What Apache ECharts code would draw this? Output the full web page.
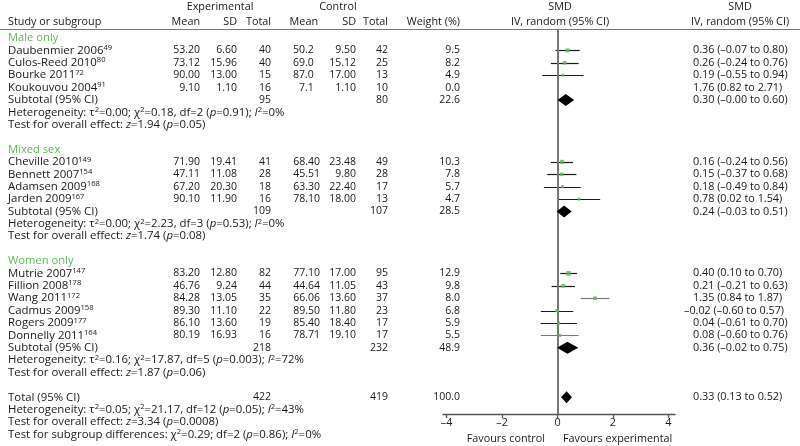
<!DOCTYPE html>
<html><head><meta charset="utf-8">
<script src="https://cdn.jsdelivr.net/npm/echarts@6/dist/echarts.min.js"></script>
<style>html,body{margin:0;padding:0;background:#fff}#c{width:800px;height:446px}</style>
</head><body><div id="c"></div>
<script>
// ---------------- DATA ----------------
const groupNames = ['Male only', 'Mixed sex', 'Women only'];
const studyGroup = [0, 0, 0, 0, 1, 1, 1, 1, 2, 2, 2, 2, 2, 2];
const studyNames = ['Daubenmier 2006', 'Culos-Reed 2010', 'Bourke 2011', 'Koukouvou 2004',
  'Cheville 2010', 'Bennett 2007', 'Adamsen 2009', 'Jarden 2009',
  'Mutrie 2007', 'Fillion 2008', 'Wang 2011', 'Cadmus 2009', 'Rogers 2009', 'Donnelly 2011'];
const studyRefs = ['49', '80', '72', '91', '149', '154', '168', '167', '147', '178', '172', '158', '177', '164'];
const expMean = ['53.20', '73.12', '90.00', '9.10', '71.90', '47.11', '67.20', '90.10', '83.20', '46.76', '84.28', '89.30', '86.10', '80.19'];
const expSD = ['6.60', '15.96', '13.00', '1.10', '19.41', '11.08', '20.30', '11.90', '12.80', '9.24', '13.05', '11.10', '13.60', '16.93'];
const expTotal = [40, 40, 15, 16, 41, 28, 18, 16, 82, 44, 35, 22, 19, 16];
const ctlMean = ['50.2', '69.0', '87.0', '7.1', '68.40', '45.51', '63.30', '78.10', '77.10', '44.64', '66.06', '89.50', '85.40', '78.71'];
const ctlSD = ['9.50', '15.12', '17.00', '1.10', '23.48', '9.80', '22.40', '18.00', '17.00', '11.05', '13.60', '11.80', '18.40', '19.10'];
const ctlTotal = [42, 25, 13, 10, 49, 28, 17, 13, 95, 43, 37, 23, 17, 17];
const weights = [9.5, 8.2, 4.9, 0.0, 10.3, 7.8, 5.7, 4.7, 12.9, 9.8, 8.0, 6.8, 5.9, 5.5];
const smd = [0.36, 0.26, 0.19, 1.76, 0.16, 0.15, 0.18, 0.78, 0.40, 0.21, 1.35, -0.02, 0.04, 0.08];
const ciLow = [-0.07, -0.24, -0.55, 0.82, -0.24, -0.37, -0.49, 0.02, 0.10, -0.21, 0.84, -0.60, -0.61, -0.60];
const ciHigh = [0.80, 0.76, 0.94, 2.71, 0.56, 0.68, 0.84, 1.54, 0.70, 0.63, 1.87, 0.57, 0.70, 0.76];

const subExpTotal = [95, 109, 218];
const subCtlTotal = [80, 107, 232];
const subWeight = [22.6, 28.5, 48.9];
const subSmd = [0.30, 0.24, 0.36];
const subLow = [-0.00, -0.03, -0.02];
const subHigh = [0.60, 0.51, 0.75];
const subTau2 = ['0.00', '0.00', '0.16'];
const subChi2 = ['0.18', '2.23', '17.87'];
const subDf = [2, 3, 5];
const subP = ['0.91', '0.53', '0.003'];
const subI2 = [0, 0, 72];
const subZ = ['1.94', '1.74', '1.87'];
const subZp = ['0.05', '0.08', '0.06'];

const totalExp = 422, totalCtl = 419, totalWeight = 100.0;
const totalSmd = 0.33, totalLow = 0.13, totalHigh = 0.52;
const totalHet = { tau2: '0.05', chi2: '21.17', df: 12, p: '0.05', i2: 43 };
const totalTest = { z: '3.34', p: '0.0008' };
const subgroupDiff = { chi2: '0.29', df: 2, p: '0.86', i2: 0 };
const axisTicks = [-4, -2, 0, 2, 4];

// ---------------- LAYOUT / STYLE ----------------
const W = 800, H = 446;
const ROW0 = 38, ROWPX = 12.39;
const PLOT = { left: 443, right: 675, top: 29, axisY: 414 };
const COL = { name: 8, expMean: 200, expSD: 237, expTotal: 271, ctlMean: 320, ctlSD: 356, ctlTotal: 388, weight: 460, ci: 693 };
const FONT = 'Open Sans';
const FS = 10.5;       // numbers / headers
const FS_LEFT = 11.4;  // left-column text
const FS_CI = 10.8;
const TXT = '#1a1a1a';
const GREEN = '#5fb75a';
const greyLineStudies = [10, 13];

const pxToRow = y => (y - ROW0) / ROWPX;
const dash = s => String(s).replace(/-/g, '\u2013');
function fmt(v) {
  const neg = v < 0 || Object.is(v, -0);
  return (neg ? '\u2013' : '') + Math.abs(v).toFixed(2);
}
function ciText(m, lo, hi) { return fmt(m) + ' (' + fmt(lo) + ' to ' + fmt(hi) + ')'; }

const texts = [];
function addText(x, row, text, align, opts) {
  opts = opts || {};
  texts.push({ x, row, text, align: align || 'left', color: opts.color || TXT, rich: !!opts.rich, size: opts.size || FS });
}
function addCi(row, m, lo, hi) {
  const neg = m < 0 || Object.is(m, -0);
  addText(COL.ci - (neg ? 9 : 0), row, ciText(m, lo, hi), 'left', { size: FS_CI });
}
const ciRows = [], squareRows = [], diamondRows = [];
let row = 0;
const L = { size: FS_LEFT, rich: true };
for (let g = 0; g < groupNames.length; g++) {
  addText(COL.name, row, groupNames[g], 'left', { color: GREEN, size: 11.2 });
  row++;
  for (let i = 0; i < studyNames.length; i++) {
    if (studyGroup[i] !== g) continue;
    addText(COL.name, row, '{n|' + studyNames[i] + '}{s|' + studyRefs[i] + '}', 'left', L);
    addText(COL.expMean, row, expMean[i], 'right');
    addText(COL.expSD, row, expSD[i], 'right');
    addText(COL.expTotal, row, String(expTotal[i]), 'right');
    const dec = ctlMean[i].split('.')[1].length;
    addText(COL.ctlMean - (2 - dec) * 6.3, row, ctlMean[i], 'right');
    addText(COL.ctlSD, row, ctlSD[i], 'right');
    addText(COL.ctlTotal, row, String(ctlTotal[i]), 'right');
    addText(COL.weight, row, weights[i].toFixed(1), 'right');
    addCi(row, smd[i], ciLow[i], ciHigh[i]);
    if (weights[i] > 0) {
      ciRows.push([ciLow[i], ciHigh[i], row, greyLineStudies.indexOf(i) >= 0 ? 1 : 0]);
      squareRows.push([smd[i], row, weights[i]]);
    }
    row++;
  }
  addText(COL.name, row, 'Subtotal (95% CI)', 'left', L);
  addText(COL.expTotal, row, String(subExpTotal[g]), 'right');
  addText(COL.ctlTotal, row, String(subCtlTotal[g]), 'right');
  addText(COL.weight, row, subWeight[g].toFixed(1), 'right');
  addCi(row, subSmd[g], subLow[g], subHigh[g]);
  diamondRows.push([subLow[g], subHigh[g], row, subSmd[g]]);
  row++;
  addText(COL.name, row, 'Heterogeneity: \u03c4{s|2}=' + subTau2[g] + '; \u03c7{s|2}=' + subChi2[g] + ', df=' + subDf[g] +
    ' ({i|p}=' + subP[g] + '); {i|I}{s|2}=' + subI2[g] + '%', 'left', L);
  row++;
  addText(COL.name, row, 'Test for overall effect: {i|z}=' + subZ[g] + ' ({i|p}=' + subZp[g] + ')', 'left', L);
  row += 2;
}
addText(COL.name, row, 'Total (95% CI)', 'left', L);
addText(COL.expTotal, row, String(totalExp), 'right');
addText(COL.ctlTotal, row, String(totalCtl), 'right');
addText(COL.weight, row, totalWeight.toFixed(1), 'right');
addCi(row, totalSmd, totalLow, totalHigh);
diamondRows.push([totalLow, totalHigh, row, totalSmd]);
row++;
addText(COL.name, row, 'Heterogeneity: \u03c4{s|2}=' + totalHet.tau2 + '; \u03c7{s|2}=' + totalHet.chi2 + ', df=' + totalHet.df +
  ' ({i|p}=' + totalHet.p + '); {i|I}{s|2}=' + totalHet.i2 + '%', 'left', L);
row++;
addText(COL.name, row, 'Test for overall effect: {i|z}=' + totalTest.z + ' ({i|p}=' + totalTest.p + ')', 'left', L);
row++;
addText(COL.name, row, 'Test for subgroup differences: \u03c7{s|2}=' + subgroupDiff.chi2 + '; df=' + subgroupDiff.df +
  ' ({i|p}=' + subgroupDiff.p + '); {i|I}{s|2}=' + subgroupDiff.i2 + '%', 'left', L);

// headers
const hr1 = pxToRow(6.5), hr2 = pxToRow(21.5);
addText(220, hr1, 'Experimental', 'center', { size: 10.8 });
addText(338, hr1, 'Control', 'center', { size: 10.8 });
addText(560, hr1, 'SMD', 'center', { size: 10.8 });
addText(740, hr1, 'SMD', 'center', { size: 10.8 });
addText(COL.name, hr2, 'Study or subgroup', 'left', { size: 10.8 });
addText(COL.expMean, hr2, 'Mean', 'right', { size: 10.8 });
addText(COL.expSD, hr2, 'SD', 'right', { size: 10.8 });
addText(COL.expTotal, hr2, 'Total', 'right', { size: 10.8 });
addText(318, hr2, 'Mean', 'right', { size: 10.8 });
addText(COL.ctlSD, hr2, 'SD', 'right', { size: 10.8 });
addText(COL.ctlTotal, hr2, 'Total', 'right', { size: 10.8 });
addText(COL.weight, hr2, 'Weight (%)', 'right', { size: 10.8 });
addText(560, hr2, 'IV, random (95% CI)', 'center', { size: 10.8 });
addText(740, hr2, 'IV, random (95% CI)', 'center', { size: 10.8 });
addText(545, pxToRow(439), 'Favours control', 'right', { size: 10.8 });
addText(563, pxToRow(439), 'Favours experimental', 'left', { size: 10.8 });

function richFor(size) {
  return {
    n: { fontSize: size, fontFamily: FONT, fill: TXT, lineHeight: 13 },
    s: { fontSize: 7.6, fontFamily: FONT, fill: TXT, verticalAlign: 'top', lineHeight: 8 },
    i: { fontSize: size, fontFamily: FONT, fill: TXT, fontStyle: 'italic', lineHeight: 13 }
  };
}

const chart = echarts.init(document.getElementById('c'), null, { renderer: 'canvas' });
const option = {
  animation: false,
  backgroundColor: '#fff',
  grid: [
    { left: 0, right: 0, top: 0, bottom: 0 },
    { left: PLOT.left, right: W - PLOT.right, top: PLOT.top, bottom: H - PLOT.axisY }
  ],
  xAxis: [
    { gridIndex: 0, type: 'value', min: 0, max: W, show: false },
    {
      gridIndex: 1, type: 'value', min: -4.13, max: 4.24,
      splitLine: { show: false },
      axisLine: { show: true, onZero: false, lineStyle: { color: '#555', width: 1.3 } },
      axisTick: { show: true, length: 4, inside: false, lineStyle: { color: '#555', width: 1.3 }, customValues: axisTicks },
      axisLabel: { show: true, customValues: axisTicks, color: TXT, fontFamily: FONT, fontSize: 10.8, margin: 3, formatter: v => dash(v) }
    }
  ],
  yAxis: [
    { gridIndex: 0, type: 'value', inverse: true, min: -ROW0 / ROWPX, max: (H - ROW0) / ROWPX, show: false },
    { gridIndex: 1, type: 'value', inverse: true, min: pxToRow(PLOT.top), max: pxToRow(PLOT.axisY), show: false }
  ],
  series: [
    {
      type: 'custom', xAxisIndex: 0, yAxisIndex: 0, silent: true, z: 5,
      data: texts.map((t, k) => [t.x, t.row, k]),
      renderItem: function (params, api) {
        const t = texts[api.value(2)];
        const p = api.coord([api.value(0), api.value(1)]);
        const style = {
          text: t.text, fill: t.color, fontSize: t.size, fontFamily: FONT,
          align: t.align, verticalAlign: 'middle'
        };
        if (t.rich) style.rich = richFor(t.size);
        return { type: 'text', x: p[0], y: p[1], style: style };
      }
    },
    {
      type: 'custom', xAxisIndex: 0, yAxisIndex: 0, silent: true, z: 4,
      data: [[0, W, pxToRow(29.5)]],
      renderItem: function (params, api) {
        const a = api.coord([api.value(0), api.value(2)]);
        const b = api.coord([api.value(1), api.value(2)]);
        return { type: 'line', shape: { x1: a[0], y1: a[1], x2: b[0], y2: b[1] }, style: { stroke: '#777', lineWidth: 1 } };
      }
    },
    {
      type: 'custom', xAxisIndex: 1, yAxisIndex: 1, silent: true, z: 3,
      encode: { x: [0, 1], y: 2 },
      data: ciRows,
      renderItem: function (params, api) {
        const a = api.coord([api.value(0), api.value(2)]);
        const b = api.coord([api.value(1), api.value(2)]);
        return {
          type: 'line', shape: { x1: a[0], y1: Math.round(a[1]) + 0.5, x2: b[0], y2: Math.round(b[1]) + 0.5 },
          style: { stroke: api.value(3) ? '#7a7a7a' : '#1a1a1a', lineWidth: 1.2 }
        };
      },
      markLine: {
        silent: true, symbol: 'none', label: { show: false },
        lineStyle: { color: '#777', width: 2, type: 'solid' },
        data: [{ xAxis: 0 }]
      }
    },
    {
      type: 'scatter', xAxisIndex: 1, yAxisIndex: 1, silent: true, z: 6,
      symbol: 'rect',
      symbolSize: d => Math.sqrt(d[2]) * 1.3,
      itemStyle: { color: GREEN },
      data: squareRows
    },
    {
      type: 'custom', xAxisIndex: 1, yAxisIndex: 1, silent: true, z: 6,
      encode: { x: [0, 1], y: 2 },
      data: diamondRows,
      renderItem: function (params, api) {
        const lo = api.coord([api.value(0), api.value(2)]);
        const hi = api.coord([api.value(1), api.value(2)]);
        const c = api.coord([api.value(3), api.value(2)]);
        const h = 6;
        return {
          type: 'polygon',
          shape: { points: [[lo[0], lo[1]], [c[0], c[1] - h], [hi[0], hi[1]], [c[0], c[1] + h]] },
          style: { fill: '#000' }
        };
      }
    }
  ]
};
chart.setOption(option);
</script>
</body></html>
